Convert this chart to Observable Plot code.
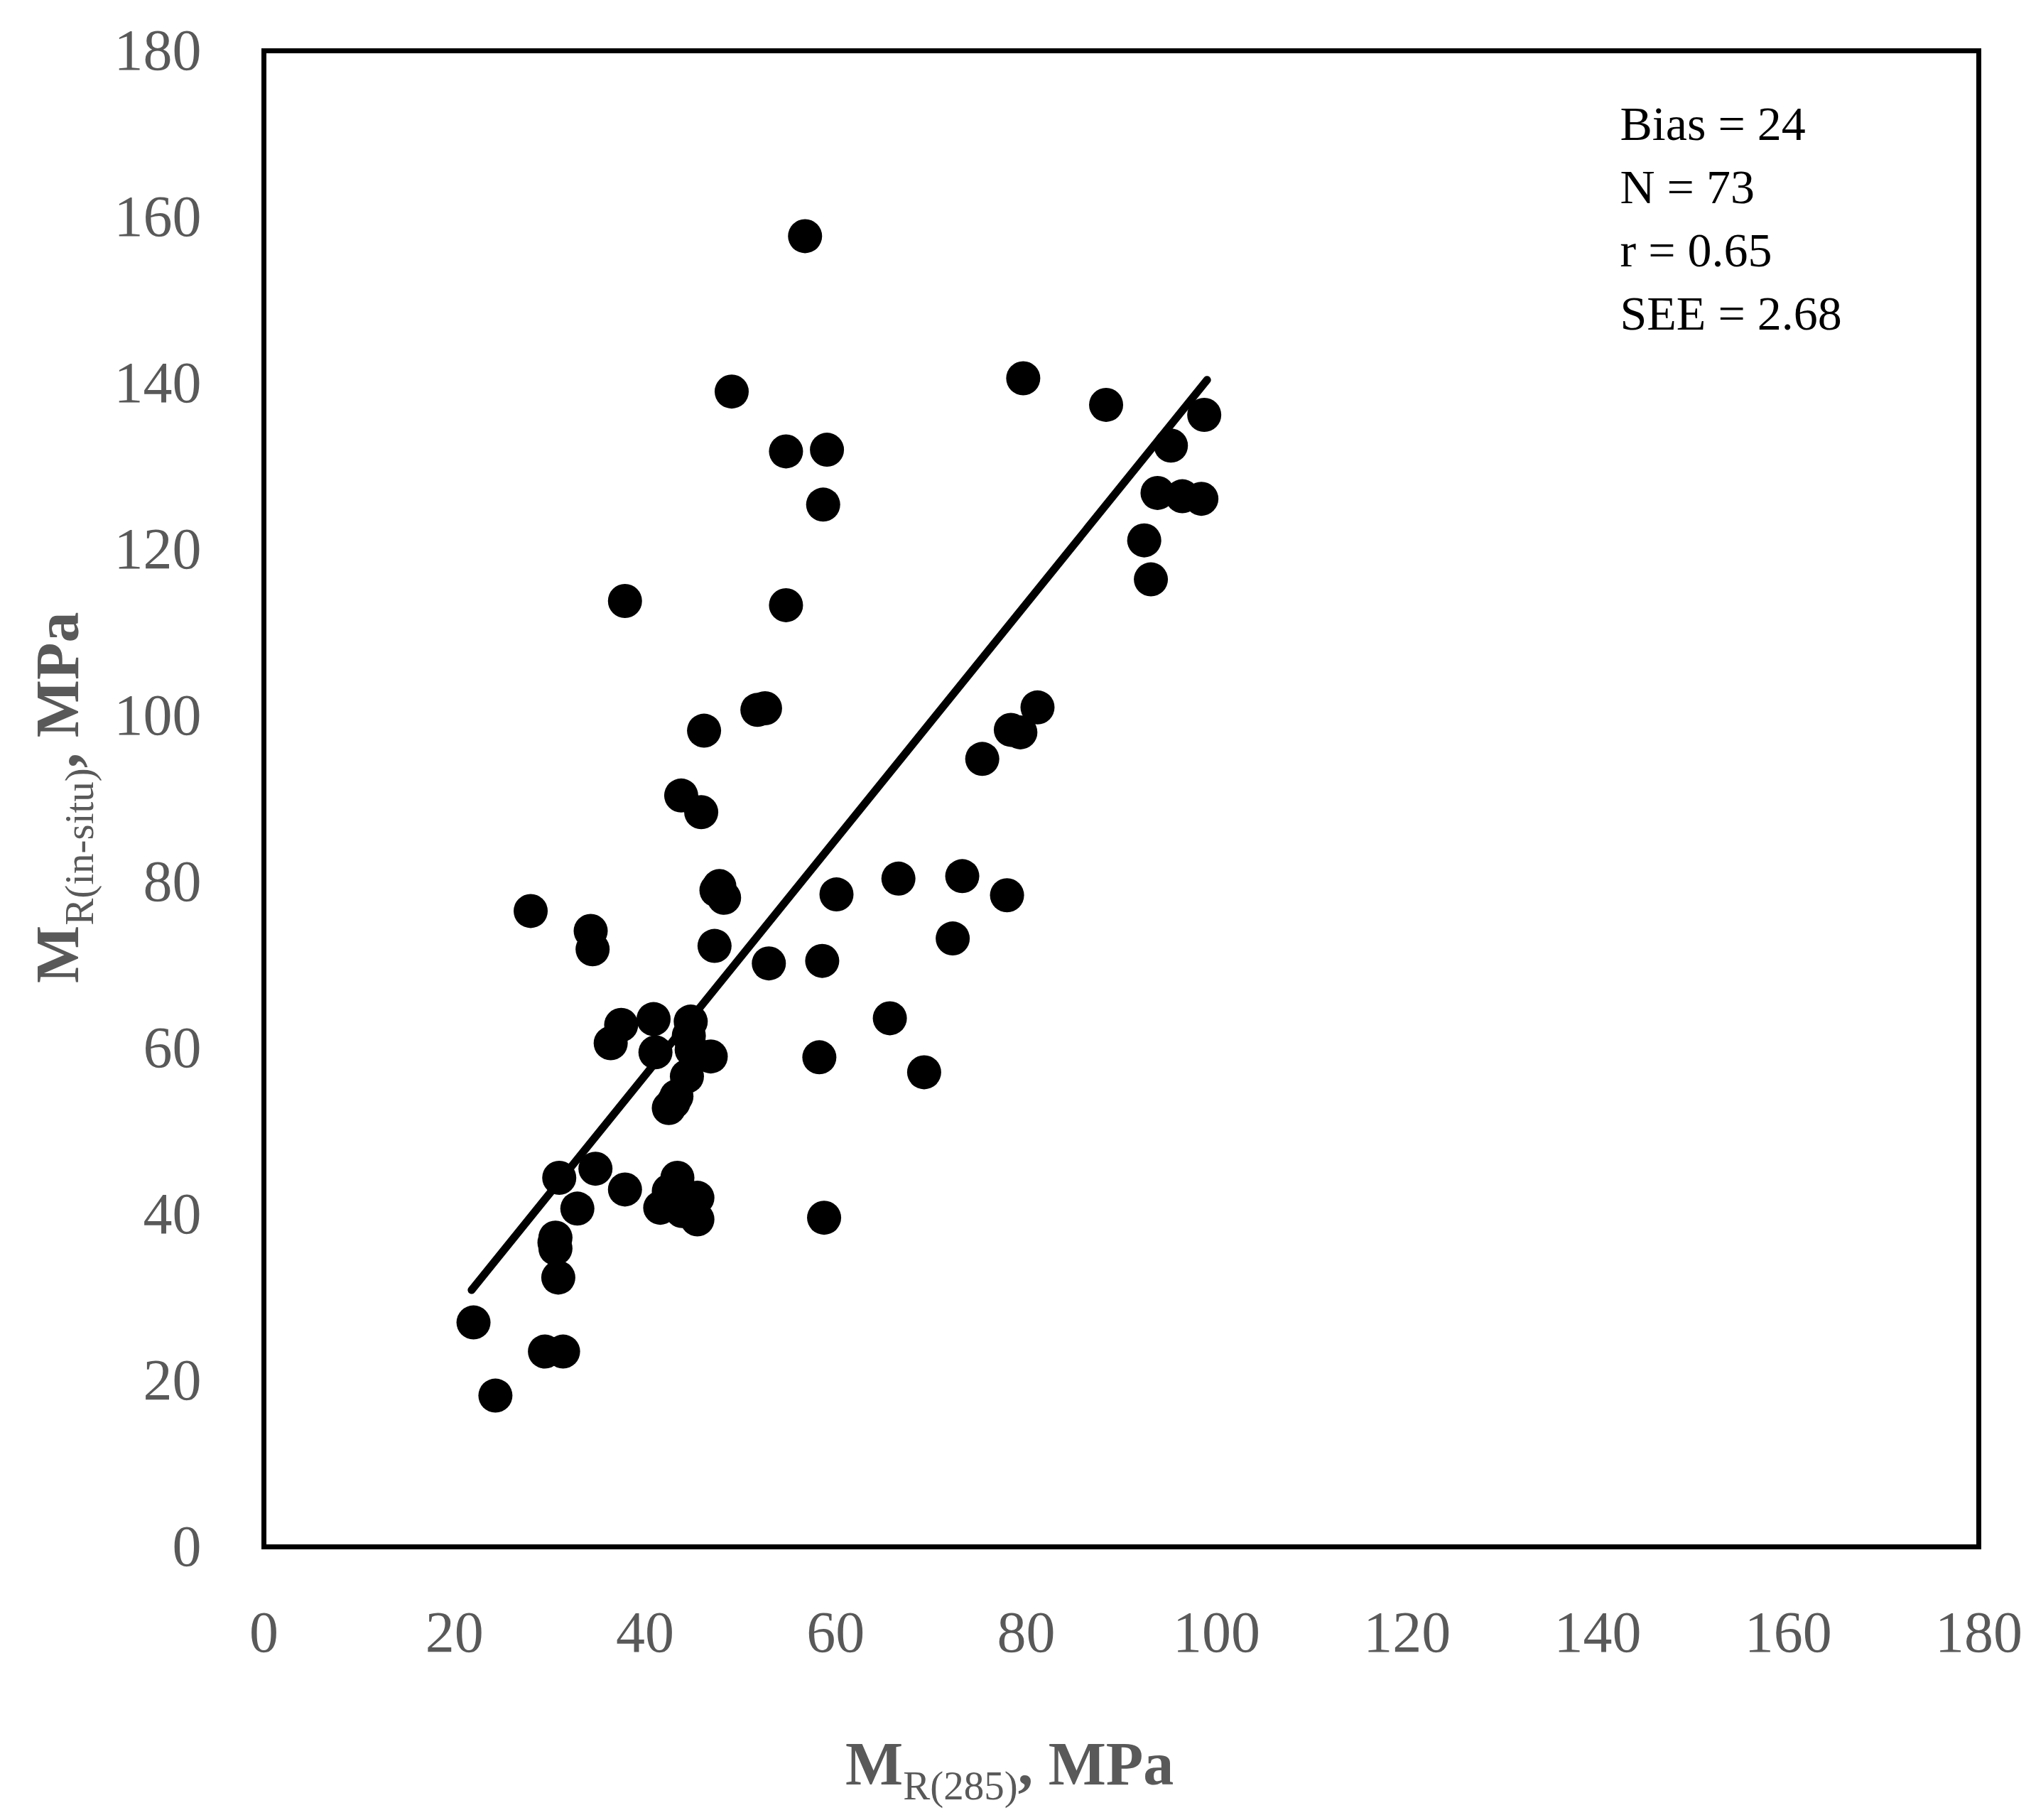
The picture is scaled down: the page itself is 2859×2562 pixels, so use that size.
<!DOCTYPE html>
<html>
<head>
<meta charset="utf-8">
<script src="https://cdn.jsdelivr.net/npm/d3@7"></script>
<script src="https://cdn.jsdelivr.net/npm/@observablehq/plot@0.6"></script>
<style>
  html, body { margin: 0; padding: 0; background: #fff; }
  #chart svg { display: block; }
</style>
</head>
<body>
<div id="chart"></div>
<script>
// M_R(285) values (x) and M_R(in-situ) values (y), MPa
const xVals = [22.0, 24.3, 28.0, 29.5, 31.4, 30.6, 30.6, 30.9, 31.0, 32.9,
  34.3, 34.5, 34.8, 36.4, 37.5, 37.9, 37.9, 40.9, 41.1, 41.6,
  42.5, 43.3, 43.8, 43.4, 42.5, 43.9, 44.4, 44.8, 44.9, 45.5,
  45.5, 45.9, 46.2, 46.9, 47.3, 47.8, 48.3, 49.1, 51.8, 52.6,
  53.0, 54.8, 54.8, 56.8, 58.3, 58.6, 58.7, 58.8, 59.1, 60.1,
  65.7, 66.6, 69.3, 72.3, 73.3, 75.4, 78.0, 78.4, 79.4, 79.7,
  81.2, 88.4, 92.4, 93.1, 93.8, 95.2, 96.4, 98.4, 98.7,
  30.5, 44.6, 43.0, 47.5];
const yVals = [27.0, 18.2, 76.5, 23.5, 23.5, 37.2, 35.9, 32.4, 44.4, 40.7,
  74.1, 71.9, 45.5, 60.6, 62.8, 113.8, 43.0, 63.5, 59.5, 40.8,
  52.8, 54.2, 90.4, 44.4, 42.8, 40.4, 56.6, 63.2, 59.8, 42.0,
  39.4, 88.4, 98.2, 59.0, 72.3, 79.5, 78.1, 139.0, 100.7, 100.9,
  70.2, 131.8, 113.3, 157.7, 58.9, 70.5, 125.4, 39.6, 132.0, 78.5,
  63.6, 80.4, 57.1, 73.2, 80.7, 94.8, 78.4, 98.3, 98.0, 140.6,
  101.0, 137.4, 121.1, 116.4, 126.8, 132.5, 126.4, 126.1, 136.2,
  36.6, 61.5, 53.5, 79.0];

// fitted line end points
const fitX = [21.8, 99.0];
const fitY = [30.9, 140.4];

const xTicks = [0, 20, 40, 60, 80, 100, 120, 140, 160, 180];
const yTicks = [0, 20, 40, 60, 80, 100, 120, 140, 160, 180];

const statsLines = ["Bias = 24", "N = 73", "r = 0.65", "SEE = 2.68"];

const points = xVals.map((x, i) => ({x, y: yVals[i]}));
const fit = fitX.map((x, i) => ({x, y: fitY[i]}));

const W = 2859, H = 2562;
const mL = 371, mR = 74, mT = 71, mB = 385;

const chart = Plot.plot({
  width: W,
  height: H,
  marginLeft: mL,
  marginRight: mR,
  marginTop: mT,
  marginBottom: mB,
  style: {
    fontFamily: "'Liberation Serif', 'Times New Roman', serif",
    fontSize: "82px",
    color: "#595959",
    background: "#fff"
  },
  x: {domain: [0, 180], ticks: xTicks, tickSize: 0, tickPadding: 89, label: null},
  y: {domain: [0, 180], ticks: yTicks, tickSize: 0, tickPadding: 88, label: null},
  marks: [
    Plot.line(fit, {x: "x", y: "y", stroke: "black", strokeWidth: 11, strokeLinecap: "round"}),
    Plot.dot(points, {x: "x", y: "y", r: 24, fill: "black", stroke: "none"}),
    Plot.text([statsLines.join("\n")], {
      frameAnchor: "top-left", dx: 1909, dy: 62,
      text: d => d, textAnchor: "start", lineAnchor: "top",
      lineHeight: 1.31, fontSize: 68, fill: "black"
    }),
    Plot.frame({stroke: "black", strokeWidth: 7})
  ]
});

document.getElementById("chart").appendChild(chart);

const svg = d3.select(chart);
const titleFont = "'Liberation Serif', 'Times New Roman', serif";

// x-axis title: M_R(285), MPa
const xt = svg.append("text")
  .attr("x", 1190).attr("y", 2512)
  .attr("text-anchor", "start")
  .attr("font-family", titleFont).attr("font-size", 86)
  .attr("font-weight", "bold").attr("fill", "#595959");
xt.append("tspan").text("M");
xt.append("tspan").attr("font-size", 57).attr("font-weight", "normal").attr("dy", 21).text("R(285)");
xt.append("tspan").attr("dy", -21).text(", MPa");

// y-axis title: M_R(in-situ), MPa
const yt = svg.append("text")
  .attr("transform", "translate(110,1384) rotate(-90)")
  .attr("text-anchor", "start")
  .attr("font-family", titleFont).attr("font-size", 86)
  .attr("font-weight", "bold").attr("fill", "#595959");
yt.append("tspan").text("M");
yt.append("tspan").attr("font-size", 57).attr("font-weight", "normal").attr("dy", 21).text("R(in-situ)");
yt.append("tspan").attr("dy", -21).text(", MPa");
</script>
</body>
</html>
